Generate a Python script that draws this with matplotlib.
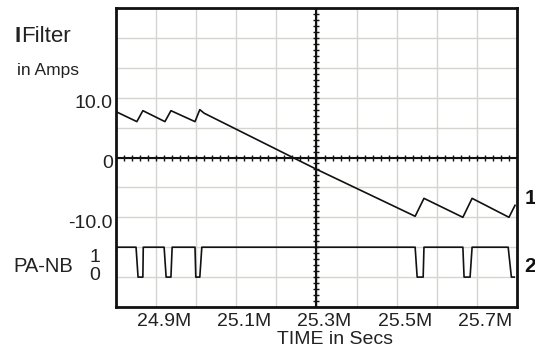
import matplotlib.pyplot as plt
import matplotlib.transforms as mtransforms
import numpy as np

plt.rcParams['font.family'] = ['Liberation Sans', 'DejaVu Sans']

# filter current trace, breakpoints (time in Msec, current in A)
i_time = [24.800, 24.852, 24.867, 24.922, 24.937, 24.997, 25.009, 25.020,
          25.241, 25.301, 25.546, 25.568, 25.665, 25.688, 25.780, 25.795]
i_amps = [7.67, 6.0, 7.83, 6.0, 7.83, 6.0, 8.0, 7.4,
          0.0, -2.0, -9.83, -6.83, -10.0, -6.83, -10.0, -8.0]

# PA-NB logic signal (1 = high, 0 = low)
pa_time = [24.800, 24.850, 24.855, 24.867, 24.868,
           24.920, 24.925, 24.937, 24.940,
           24.997, 24.999, 25.009, 25.014,
           25.546, 25.551, 25.566, 25.568,
           25.665, 25.668, 25.683, 25.688,
           25.778, 25.786, 25.793]
pa_state = [1, 1, 0, 0, 1,
            1, 0, 0, 1,
            1, 0, 0, 1,
            1, 0, 0, 1,
            1, 0, 0, 1,
            1, 0, 0]

x_labels = ['24.9M', '25.1M', '25.3M', '25.5M', '25.7M']
x_label_pos = [24.9, 25.1, 25.3, 25.5, 25.7]
y_labels = ['10.0', '0', '-10.0']
y_label_pos = [10, 0, -10]

# logic trace sits below the analog one on the same grid
pa_low, pa_step = -20, 5

fig = plt.figure(figsize=(5.35, 3.49), dpi=100)
ax = fig.add_axes([116 / 535, 1 - 307 / 349, 401 / 535, 299 / 349])
ax.set_xlim(24.8, 25.8)
ax.set_ylim(-25, 25)

ax.set_xticks(np.arange(24.8, 25.81, 0.1))
ax.set_yticks(np.arange(-25, 25.1, 5))
ax.tick_params(length=0, labelbottom=False, labelleft=False)
ax.grid(True, color='#d2d6ce', lw=1.0)
ax.set_axisbelow(True)
for s in ax.spines.values():
    s.set_linewidth(2)
    s.set_color('#111111')

# center cross with small ticks
ax.axhline(0, color='#111111', lw=1.5, zorder=2)
ax.axvline(25.3, color='#111111', lw=1.5, zorder=2)
hx = np.arange(24.8, 25.801, 0.02)
ax.plot(hx, np.zeros_like(hx), ls='none', marker='|', ms=4.5, mew=1,
        color='#111111', zorder=2)
vy = np.arange(-25, 25.01, 1)
ax.plot(np.full_like(vy, 25.3), vy, ls='none', marker='_', ms=4.5, mew=1,
        color='#111111', zorder=2)

ax.plot(i_time, i_amps, color='#111111', lw=1.2, zorder=3)
ax.plot(pa_time, [pa_low + pa_step * s for s in pa_state],
        color='#111111', lw=1.2, zorder=3)

# tick labels
xoff = mtransforms.ScaledTranslation(8 / 100, 0, fig.dpi_scale_trans)
for pos, lab in zip(x_label_pos, x_labels):
    ax.text(pos, -0.048, lab, transform=ax.get_xaxis_transform() + xoff,
            ha='center', va='center', fontsize=14, color='#222222')
yoff = mtransforms.ScaledTranslation(0, -6 / 100, fig.dpi_scale_trans)
for pos, lab in zip(y_label_pos, y_labels):
    ax.text(-0.008, pos, lab, transform=ax.get_yaxis_transform() + yoff,
            ha='right', va='center', fontsize=14, color='#222222')

fig.text(14 / 535, 1 - 36 / 349, 'I', fontsize=16, fontweight='bold',
         ha='left', va='center', color='#222222')
fig.text(21 / 535, 1 - 36 / 349, 'Filter', fontsize=16,
         ha='left', va='center', color='#222222')
fig.text(17 / 535, 1 - 71 / 349, 'in Amps', fontsize=12.5,
         ha='left', va='center', color='#222222')
fig.text(13 / 535, 1 - 267 / 349, 'PA-NB', fontsize=14.5,
         ha='left', va='center', color='#222222')
fig.text(95 / 535, 1 - 257 / 349, '1', fontsize=14,
         ha='center', va='center', color='#222222')
fig.text(95 / 535, 1 - 276 / 349, '0', fontsize=14,
         ha='center', va='center', color='#222222')
fig.text(530 / 535, 1 - 199 / 349, '1', fontsize=15, fontweight='bold',
         ha='center', va='center', color='#111111')
fig.text(530 / 535, 1 - 267 / 349, '2', fontsize=15, fontweight='bold',
         ha='center', va='center', color='#111111')
fig.text(335 / 535, 1 - 340 / 349, 'TIME in Secs', fontsize=14,
         ha='center', va='center', color='#222222')

fig.savefig('out.png', dpi=100)
